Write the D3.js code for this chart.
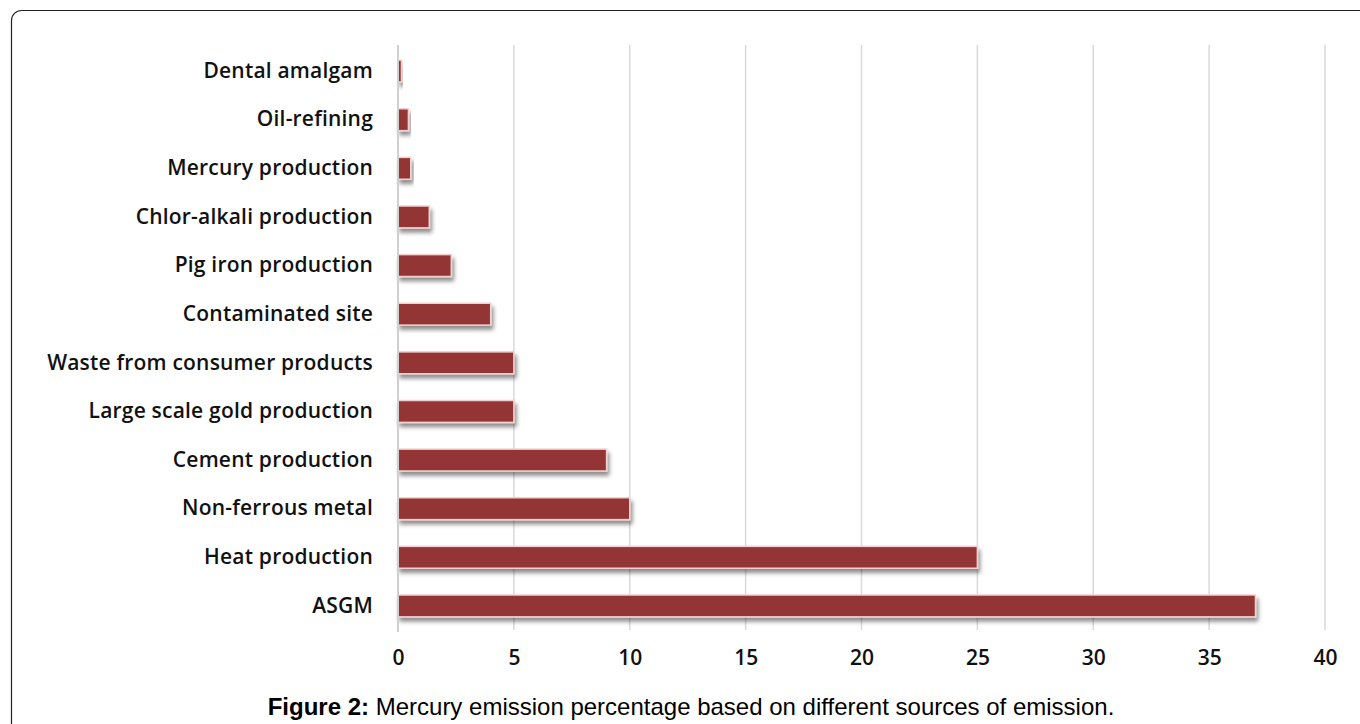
<!DOCTYPE html>
<html>
<head>
<meta charset="utf-8">
<script src="https://cdn.jsdelivr.net/npm/d3@7"></script>
<style>
  body { margin: 0; background: #fff; }
  svg { display: block; }
</style>
</head>
<body>
<svg id="chart" width="1360" height="724"></svg>
<script>
// data
const sources = [
  "Dental amalgam", "Oil-refining", "Mercury production", "Chlor-alkali production",
  "Pig iron production", "Contaminated site", "Waste from consumer products",
  "Large scale gold production", "Cement production", "Non-ferrous metal",
  "Heat production", "ASGM"
];
const percent = [0.15, 0.45, 0.55, 1.35, 2.3, 4, 5, 5, 9, 10, 25, 37];
const tickValues = [0, 5, 10, 15, 20, 25, 30, 35, 40];

const svg = d3.select("#chart");

// frame
svg.append("rect")
  .attr("x", 11.5).attr("y", 10.5)
  .attr("width", 1400).attr("height", 800)
  .attr("rx", 10)
  .attr("fill", "none")
  .attr("stroke", "#222")
  .attr("stroke-width", 1.2);

const defs = svg.append("defs");
const f = defs.append("filter").attr("id", "shadow")
  .attr("x", "-10%").attr("y", "-30%").attr("width", "130%").attr("height", "190%");
f.append("feDropShadow")
  .attr("dx", 2).attr("dy", 4).attr("stdDeviation", 2)
  .attr("flood-color", "#000").attr("flood-opacity", 0.45);

const x = d3.scaleLinear().domain([0, 40]).range([398, 1325]);
const y = d3.scaleBand().domain(sources).range([47, 630]).paddingInner(0.55).paddingOuter(0.27);

// gridlines
svg.append("g")
  .selectAll("line")
  .data(tickValues.slice(1))
  .join("line")
  .attr("x1", d => x(d)).attr("x2", d => x(d))
  .attr("y1", 45).attr("y2", 630)
  .attr("stroke", "#d9d9d9").attr("stroke-width", 1.5);

// bars
svg.append("g")
  .selectAll("rect")
  .data(percent)
  .join("rect")
  .attr("x", x(0))
  .attr("y", (d, i) => y(sources[i]))
  .attr("width", d => x(d) - x(0))
  .attr("height", y.bandwidth())
  .attr("fill", "#943634")
  .attr("stroke", "#f2d0cf")
  .attr("stroke-width", 1.5)
  .attr("filter", "url(#shadow)");

// value axis line
svg.append("line")
  .attr("x1", x(0)).attr("x2", x(0))
  .attr("y1", 45).attr("y2", 632)
  .attr("stroke", "#d0d0d0").attr("stroke-width", 2);

// category labels
const yAxis = svg.append("g")
  .attr("transform", `translate(${x(0) - 25},0)`)
  .call(d3.axisLeft(y).tickSize(0).tickPadding(0));
yAxis.select(".domain").remove();
yAxis.selectAll("text")
  .attr("font-family", "'Open Sans', sans-serif")
  .attr("font-size", 21)
  .attr("font-weight", 600)
  .attr("letter-spacing", 0.2)
  .attr("fill", "#111");

// tick labels
const xAxis = svg.append("g")
  .attr("transform", "translate(0,650)")
  .call(d3.axisBottom(x).tickValues(tickValues).tickSize(0).tickPadding(0));
xAxis.select(".domain").remove();
xAxis.selectAll("text")
  .attr("dy", "0.71em")
  .attr("font-family", "'Open Sans', sans-serif")
  .attr("font-size", 21)
  .attr("font-weight", 600)
  .attr("fill", "#111");

// caption
const cap = svg.append("text")
  .attr("x", 691).attr("y", 715)
  .attr("text-anchor", "middle")
  .attr("font-family", "'Liberation Sans', Arial, sans-serif")
  .attr("font-size", 24)
  .attr("fill", "#000");
cap.append("tspan").attr("font-weight", "bold").text("Figure 2:");
cap.append("tspan").text(" Mercury emission percentage based on different sources of emission.");
</script>
</body>
</html>
